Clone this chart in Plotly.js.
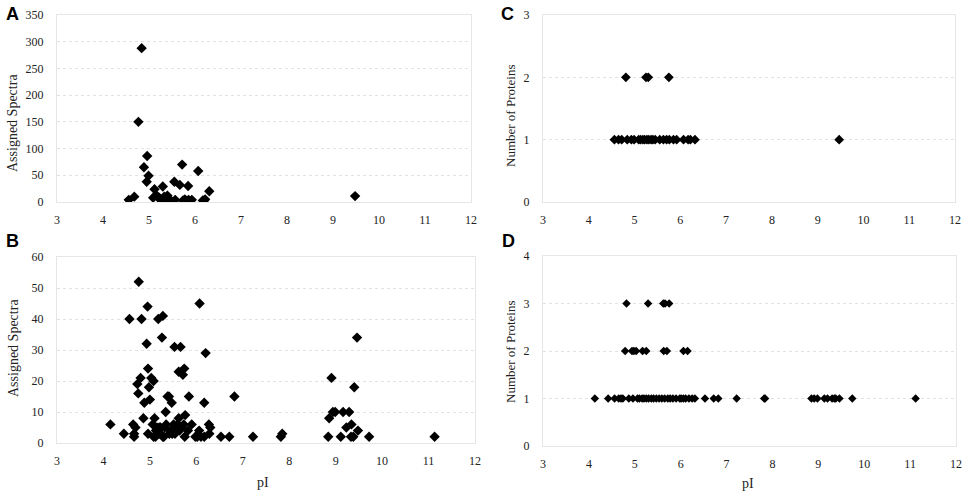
<!DOCTYPE html>
<html><head><meta charset="utf-8">
<script src="https://cdn.plot.ly/plotly-3.0.1.min.js"></script>
<style>html,body{margin:0;padding:0;background:#fff}#chart{width:964px;height:493px}</style>
</head><body><div id="chart"></div>
<script>
const W = 964, H = 493;

// Panel A: pI vs assigned spectra
const pI_A = [4.56, 4.68, 4.77, 4.84, 4.89, 4.95, 4.96, 4.99, 5.09, 5.12, 5.18, 5.22, 5.25, 5.28, 5.30, 5.31, 5.33, 5.36, 5.38, 5.40, 5.43, 5.46, 5.55, 5.57, 5.67, 5.72, 5.74, 5.78, 5.85, 5.86, 5.93, 6.07, 6.17, 6.20, 6.22, 6.31, 9.48];
const spectra_A = [4, 10, 150, 288, 65, 38, 86, 49, 8, 24, 11, 8, 4, 2, 29, 6, 10, 3, 5, 12, 4, 4, 38, 4, 32, 70, 3, 5, 30, 4, 4, 58, 3, 3, 5, 20, 11];

// Panel B: pI vs assigned spectra
const pI_B = [4.15, 4.44, 4.56, 4.64, 4.66, 4.66, 4.69, 4.73, 4.75, 4.76, 4.80, 4.82, 4.86, 4.88, 4.93, 4.95, 4.96, 4.96, 4.98, 5.00, 5.03, 5.06, 5.08, 5.08, 5.10, 5.12, 5.13, 5.15, 5.17, 5.18, 5.18, 5.20, 5.22, 5.23, 5.26, 5.28, 5.28, 5.30, 5.32, 5.34, 5.35, 5.38, 5.41, 5.42, 5.44, 5.47, 5.48, 5.51, 5.53, 5.54, 5.57, 5.60, 5.62, 5.62, 5.64, 5.66, 5.68, 5.71, 5.73, 5.74, 5.75, 5.76, 5.82, 5.84, 5.90, 5.98, 6.02, 6.06, 6.07, 6.10, 6.17, 6.17, 6.20, 6.27, 6.30, 6.28, 6.53, 6.71, 6.82, 7.22, 7.82, 7.85, 8.84, 8.86, 8.91, 8.94, 8.99, 9.11, 9.16, 9.23, 9.29, 9.33, 9.34, 9.38, 9.40, 9.46, 9.48, 9.72, 11.13];
const spectra_B = [6, 3, 40, 6, 3, 2, 5, 19, 16, 52, 21, 40, 8, 13, 32, 44, 24, 3, 18, 14, 21, 6, 20, 2, 8, 2, 4, 5, 3, 40, 4, 5, 3, 5, 34, 41, 2, 2, 5, 10, 6, 15, 15, 3, 4, 13, 3, 6, 31, 3, 4, 6, 23, 8, 4, 31, 5, 22, 6, 24, 2, 9, 4, 15, 6, 2, 2, 4, 45, 2, 13, 2, 29, 6, 5, 3, 2, 2, 15, 2, 2, 3, 2, 8, 21, 10, 10, 2, 10, 5, 10, 2, 6, 2, 18, 34, 4, 2, 2];

// Panel C: pI vs number of proteins
const pI_C = [4.56, 4.65, 4.72, 4.84, 4.93, 4.99, 5.09, 5.13, 5.18, 5.22, 5.27, 5.31, 5.36, 5.40, 5.45, 5.55, 5.63, 5.70, 5.76, 5.85, 5.92, 6.07, 6.17, 6.22, 6.32, 9.47, 4.81, 5.25, 5.30, 5.75];
const proteins_C = [1, 1, 1, 1, 1, 1, 1, 1, 1, 1, 1, 1, 1, 1, 1, 1, 1, 1, 1, 1, 1, 1, 1, 1, 1, 1, 2, 2, 2, 2];

// Panel D: pI vs number of proteins
const pI_D = [4.13, 4.42, 4.56, 4.65, 4.70, 4.74, 4.87, 4.96, 5.06, 5.10, 5.16, 5.20, 5.25, 5.30, 5.36, 5.41, 5.47, 5.53, 5.59, 5.65, 5.72, 5.77, 5.83, 5.90, 5.98, 6.01, 6.06, 6.11, 6.18, 6.25, 6.31, 6.53, 6.72, 6.82, 7.22, 7.82, 7.84, 8.85, 8.91, 8.98, 9.13, 9.20, 9.30, 9.35, 9.38, 9.46, 9.74, 11.12, 4.79, 4.94, 4.98, 5.03, 5.17, 5.25, 5.63, 5.70, 6.06, 6.15, 4.82, 5.29, 5.62, 5.66, 5.75];
const proteins_D = [1, 1, 1, 1, 1, 1, 1, 1, 1, 1, 1, 1, 1, 1, 1, 1, 1, 1, 1, 1, 1, 1, 1, 1, 1, 1, 1, 1, 1, 1, 1, 1, 1, 1, 1, 1, 1, 1, 1, 1, 1, 1, 1, 1, 1, 1, 1, 1, 2, 2, 2, 2, 2, 2, 2, 2, 2, 2, 3, 3, 3, 3, 3];

const xTicks = [3, 4, 5, 6, 7, 8, 9, 10, 11, 12];
const panelLetters = ['A', 'B', 'C', 'D'];
const yTitleSpectra = 'Assigned Spectra';
const yTitleProteins = 'Number of Proteins';
const xTitle = 'pI';

const serif = '"Liberation Serif", "Times New Roman", Times, serif';
function tf() { return {family: serif, size: 12, color: '#222'}; }

function fx(px) { return px / W; }
function fy(py) { return 1 - py / H; }

function xAxis(l, r, anchor) {
  return {
    domain: [fx(l), fx(r)], anchor: anchor, range: [3, 12],
    tickvals: xTicks, ticktext: xTicks.map(String),
    showgrid: false, zeroline: false,
    showline: true, linecolor: '#e6e6e6', linewidth: 1, mirror: true,
    ticks: '', ticklabelstandoff: 7, tickfont: tf(), fixedrange: true
  };
}
function yAxis(t, b, anchor, maxV, dt) {
  return {
    domain: [fy(b), fy(t)], anchor: anchor, range: [0, maxV],
    dtick: dt, tick0: 0,
    showgrid: true, gridcolor: '#e2e2e2', griddash: 'dot', gridwidth: 1,
    zeroline: false, showline: true, linecolor: '#e6e6e6', linewidth: 1, mirror: true,
    ticks: '', ticklabelstandoff: 10, tickfont: tf(), fixedrange: true
  };
}

const mk = (s) => ({symbol: 'diamond', size: s, color: '#000', line: {width: 0}});

const data = [
  {x: pI_A, y: spectra_A, xaxis: 'x', yaxis: 'y', mode: 'markers', type: 'scatter', marker: mk(8)},
  {x: pI_B, y: spectra_B, xaxis: 'x2', yaxis: 'y2', mode: 'markers', type: 'scatter', marker: mk(8)},
  {x: pI_C, y: proteins_C, xaxis: 'x3', yaxis: 'y3', mode: 'markers', type: 'scatter', marker: mk(7.5)},
  {x: pI_D, y: proteins_D, xaxis: 'x4', yaxis: 'y4', mode: 'markers', type: 'scatter', marker: mk(6.5)}
];

const letterFont = {family: '"Liberation Sans", Arial, sans-serif', size: 18, color: '#000', weight: 'bold'};
const titleFont = {family: serif, size: 14, color: '#222'};
const titleFontSmall = {family: serif, size: 13, color: '#222'};

function ann(text, px, py, font, angle) {
  return {text: text, x: fx(px), y: fy(py), xref: 'paper', yref: 'paper',
    xanchor: 'center', yanchor: 'middle', showarrow: false, font: font, textangle: angle || 0};
}

const layout = {
  width: W, height: H,
  margin: {l: 0, r: 0, t: 0, b: 0},
  paper_bgcolor: '#fff', plot_bgcolor: '#fff',
  showlegend: false,
  font: {family: serif, size: 12, color: '#222'},
  xaxis: xAxis(57, 471, 'y'),
  yaxis: yAxis(15, 202, 'x', 350, 50),
  xaxis2: xAxis(57, 475, 'y2'),
  yaxis2: yAxis(257, 443, 'x2', 60, 10),
  xaxis3: xAxis(543, 955, 'y3'),
  yaxis3: yAxis(15, 202, 'x3', 3, 1),
  xaxis4: xAxis(543, 956, 'y4'),
  yaxis4: yAxis(256, 446, 'x4', 4, 1),
  annotations: [
    ann('<b>' + panelLetters[0] + '</b>', 12, 14, letterFont),
    ann('<b>' + panelLetters[1] + '</b>', 12, 241, letterFont),
    ann('<b>' + panelLetters[2] + '</b>', 507, 14, letterFont),
    ann('<b>' + panelLetters[3] + '</b>', 508, 241, letterFont),
    ann(yTitleSpectra, 13, 123, titleFont, -90),
    ann(yTitleSpectra, 13, 348, titleFont, -90),
    ann(yTitleProteins, 510, 116, titleFontSmall, -90),
    ann(yTitleProteins, 510, 352, titleFontSmall, -90),
    ann(xTitle, 263, 482, titleFont),
    ann(xTitle, 748, 483, titleFont)
  ]
};

Plotly.newPlot('chart', data, layout, {staticPlot: true, displayModeBar: false});
</script>
</body></html>
